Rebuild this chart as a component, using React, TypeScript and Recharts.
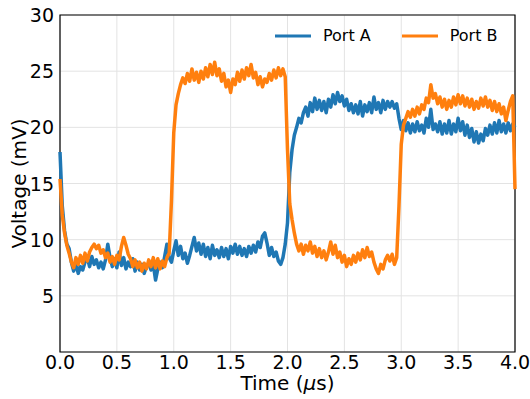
import React from 'react';
import {
  CartesianGrid,
  Legend,
  Line,
  LineChart,
  ReferenceArea,
  XAxis,
  YAxis,
} from 'recharts';

// sampled every 0.02 us, 0 .. 4.0
const STEP_US = 0.02;

const portA = [
  17.8, 13.0, 10.8, 9.6, 9.2, 8.0, 7.2, 7.9, 7.0, 7.6,
  7.3, 8.0, 8.4, 7.6, 8.5, 7.8, 8.2, 7.5, 8.0, 7.4,
  8.2, 9.6, 8.4, 7.6, 8.3, 7.5, 8.9, 7.7, 8.4, 7.4,
  8.0, 7.6, 8.3, 7.2, 8.0, 7.3, 7.8, 7.0, 7.6, 7.9,
  7.3, 7.8, 6.4, 7.4, 8.0, 7.5, 8.5, 9.6, 8.4, 8.0,
  9.0, 9.9, 8.6, 9.4, 8.3, 8.8, 7.9, 8.6, 9.4, 10.2,
  9.0, 9.7, 8.7, 9.6, 8.5, 9.3, 8.3, 9.5, 8.6, 9.1,
  8.4, 9.3, 8.5, 9.2, 8.3, 9.4, 8.8, 9.6, 8.7, 9.4,
  8.6, 9.2, 8.5, 9.4, 8.8, 9.5, 8.9, 9.8, 9.3, 10.3,
  10.6, 9.7, 8.6, 9.3, 8.5, 8.9, 8.1, 7.8, 8.4, 9.6,
  11.5, 16.0, 18.0, 19.3, 20.0, 20.8, 20.4, 21.3, 21.8, 21.0,
  22.2, 21.4, 22.6, 21.6, 22.4, 21.5, 22.3, 21.3, 22.5, 21.8,
  22.9, 22.1, 23.1, 22.3, 22.8, 21.9, 22.5, 21.5, 22.1, 21.3,
  22.0, 21.2, 22.3, 21.0, 22.0, 21.4, 22.2, 21.3, 22.7, 21.6,
  22.2, 21.3, 22.4, 21.6, 22.3, 21.8, 22.3, 21.7, 22.1, 20.8,
  19.8, 20.6, 19.7, 20.4, 19.5, 20.3, 19.6, 20.5, 19.7, 20.2,
  19.5, 20.8, 20.0, 21.6, 19.8, 20.3, 19.6, 20.5, 19.4, 20.3,
  19.5, 20.6, 19.4, 20.3, 19.6, 20.8, 19.7, 20.5, 19.3, 20.2,
  19.1, 19.9, 18.7, 19.6, 18.6, 19.4, 18.8, 19.9, 19.3, 20.2,
  19.4, 20.4, 19.5, 20.6, 19.6, 20.3, 19.5, 20.4, 19.7, 20.3,
  20.0,
];

const portB = [
  15.4, 12.2, 10.6, 9.5, 8.8, 8.0, 7.5, 8.4, 7.8, 8.6,
  7.9, 8.8, 8.1, 8.9, 9.3, 9.6, 9.2, 9.5, 8.8, 9.1,
  8.4, 8.8, 8.0, 8.5, 7.8, 8.6, 8.2, 9.4, 10.2, 9.5,
  8.7, 8.3, 7.6, 8.2, 7.5, 8.0, 7.2, 7.9, 7.4, 8.2,
  7.6, 8.4, 7.5, 8.3, 7.4, 8.1, 7.6, 8.4, 8.8, 13.5,
  19.5, 22.0, 23.0, 23.8, 24.4, 23.9, 24.8, 24.1, 25.2, 24.2,
  24.9, 24.0, 25.0, 24.3, 25.3, 24.5, 25.6, 24.7, 25.8, 24.6,
  25.2, 24.1, 24.8, 23.6, 24.2, 23.1, 24.3, 23.8, 24.9, 24.1,
  25.1, 24.3, 25.3, 24.6, 25.6, 24.4, 24.9, 23.8, 24.5, 23.6,
  24.3, 24.0, 24.8, 24.2, 25.1, 24.4, 25.3, 24.6, 25.2, 24.5,
  18.0, 13.2, 11.8, 10.6, 9.6, 9.0, 9.6, 8.7, 9.5, 9.0,
  9.8, 8.8, 9.4, 8.5, 9.2, 8.4, 9.0, 8.2, 8.9, 9.8,
  8.7, 9.5, 8.4, 8.9, 8.0, 8.6, 7.6, 8.3, 7.8, 8.6,
  8.0, 8.8, 8.2, 9.1, 8.4, 9.3, 8.5, 8.9, 8.0, 7.4,
  7.0, 7.8, 7.4, 8.2, 8.6, 8.1, 8.7, 7.8, 8.4, 13.0,
  18.5, 20.2, 20.8, 21.4, 20.9, 21.6, 21.0, 21.8, 21.2, 22.0,
  21.6, 22.6, 22.2, 23.8, 22.6, 23.0, 22.1, 22.7, 21.8, 22.5,
  21.6, 22.4, 21.8, 22.7, 22.0, 22.9, 22.1, 22.8, 21.9, 22.6,
  21.8, 22.5, 21.6, 22.3, 21.7, 22.6, 21.9, 22.7, 21.8, 22.4,
  21.5, 22.3, 21.4, 22.1, 21.2, 21.8, 20.6, 21.5, 22.3, 22.8,
  14.5,
];

const xTicks = [0, 0.5, 1, 1.5, 2, 2.5, 3, 3.5, 4];
const yTicks = [5, 10, 15, 20, 25, 30];

const BLUE = '#1f77b4';
const ORANGE = '#ff7f0e';
const FONT = '"DejaVu Sans", sans-serif';
const TICK_SIZE = 19;

const data = portA.map((a, i) => ({
  t: +(i * STEP_US).toFixed(2),
  a,
  b: portB[i],
}));

function XTick(props: any) {
  const { x, y, payload } = props;
  return (
    <text
      x={x}
      y={y + 17}
      textAnchor="middle"
      fontSize={TICK_SIZE}
      fontFamily={FONT}
      fill="#000"
    >
      {Number(payload.value).toFixed(1)}
    </text>
  );
}

function YTick(props: any) {
  const { x, y, payload } = props;
  return (
    <text
      x={x - 6}
      y={y + 7}
      textAnchor="end"
      fontSize={TICK_SIZE}
      fontFamily={FONT}
      fill="#000"
    >
      {payload.value}
    </text>
  );
}

function XTitle(props: any) {
  const { x, y, width } = props.viewBox;
  return (
    <text
      x={x + width / 2}
      y={y + 38}
      textAnchor="middle"
      fontSize={20}
      fontFamily={FONT}
      fill="#000"
    >
      Time (<tspan fontStyle="italic">μ</tspan>s)
    </text>
  );
}

function YTitle(props: any) {
  const { y, height } = props.viewBox;
  const cx = 26;
  const cy = y + height / 2;
  return (
    <text
      x={cx}
      y={cy}
      textAnchor="middle"
      fontSize={20}
      fontFamily={FONT}
      fill="#000"
      transform={`rotate(-90 ${cx} ${cy})`}
    >
      Voltage (mV)
    </text>
  );
}

function LegendBox() {
  const item = (color: string, label: string, gap: number) => (
    <div style={{ display: 'flex', alignItems: 'center', marginRight: gap }}>
      <svg width={36} height={4} style={{ marginRight: 12 }}>
        <line x1={0} y1={2} x2={36} y2={2} stroke={color} strokeWidth={3} />
      </svg>
      <span style={{ fontFamily: FONT, fontSize: 16, color: '#000' }}>{label}</span>
    </div>
  );
  return (
    <div style={{ display: 'flex' }}>
      {item(BLUE, 'Port A', 31)}
      {item(ORANGE, 'Port B', 0)}
    </div>
  );
}

export default function App() {
  return (
    <div style={{ width: 530, height: 399 }}>
      <style>{'body{margin:0}'}</style>
      <LineChart
        width={530}
        height={399}
        data={data}
        margin={{ top: 15, right: 15, bottom: 0, left: 0 }}
      >
        <CartesianGrid stroke="#e3e3e3" strokeWidth={1} />
        <XAxis
          dataKey="t"
          type="number"
          domain={[0, 4]}
          ticks={xTicks}
          tickLine={false}
          axisLine={false}
          tickSize={0}
          tickMargin={0}
          height={47}
          tick={<XTick />}
          interval={0}
          label={<XTitle />}
        />
        <YAxis
          type="number"
          domain={[0, 30]}
          ticks={yTicks}
          tickLine={false}
          axisLine={false}
          tickSize={0}
          tickMargin={0}
          width={60}
          tick={<YTick />}
          interval={0}
          label={<YTitle />}
        />
        <Line
          dataKey="a"
          stroke={BLUE}
          strokeWidth={3.5}
          dot={false}
          isAnimationActive={false}
          strokeLinejoin="round"
        />
        <Line
          dataKey="b"
          stroke={ORANGE}
          strokeWidth={3.5}
          dot={false}
          isAnimationActive={false}
          strokeLinejoin="round"
        />
        <ReferenceArea
          x1={0}
          x2={4}
          y1={0}
          y2={30}
          fill="none"
          stroke="#000"
          strokeWidth={1.2}
          fillOpacity={0}
        />
        <Legend
          layout="horizontal"
          verticalAlign="middle"
          align="center"
          content={() => <LegendBox />}
          wrapperStyle={{ top: 26, left: 275, width: 'auto' }}
        />
      </LineChart>
    </div>
  );
}
